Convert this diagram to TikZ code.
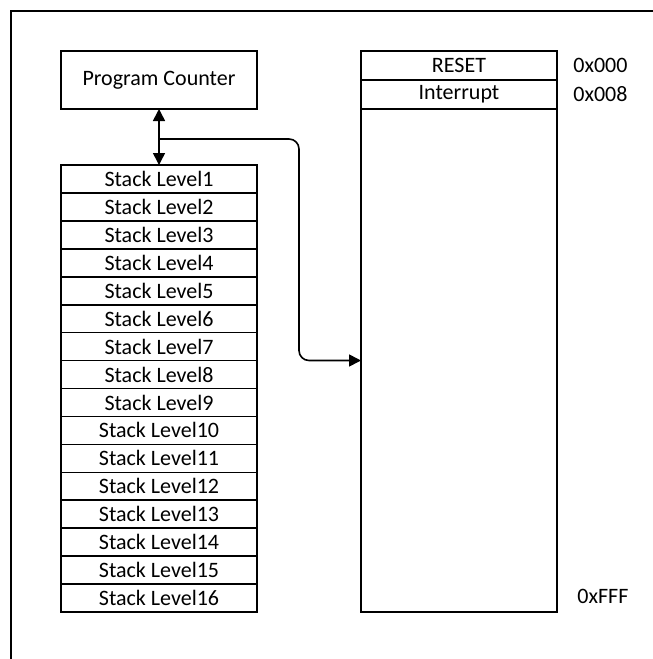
\documentclass[tikz,border=0pt]{standalone}
\usepackage{fontspec}
\setmainfont{Carlito}
\usepackage{tikz}
\usetikzlibrary {arrows.meta,
                 calc,
                 positioning}
\tikzset{
        base/.style={draw, line width=0.8pt, inner sep=0pt, outer sep=0pt,
                     minimum width=98pt},
        cell/.style={base, minimum height=13.97pt},
        pcbox/.style={base, minimum height=29pt},
        memrow/.style={base, minimum height=14.5pt},
        addr/.style={inner sep=0pt, anchor=west},
        myarrow/.style={-{Triangle[length=6pt, width=6pt]}, line width=0.8pt},
 }

\begin{document}
\begin{tikzpicture}[font=\fontsize{11}{13}\selectfont]
    \useasboundingbox (0,0) rectangle (326.5pt,-329.5pt);
    \draw[line width=0.8pt] (5.5pt,-5.5pt) rectangle (340pt,-340pt);

    \node[pcbox] (pc) at (79.5pt,-40pt) {Program Counter};

    \node[cell, below=28pt of pc] (s1) {Stack Level1};
    \node[cell, below=0pt of s1] (s2) {Stack Level2};
    \node[cell, below=0pt of s2] (s3) {Stack Level3};
    \node[cell, below=0pt of s3] (s4) {Stack Level4};
    \node[cell, below=0pt of s4] (s5) {Stack Level5};
    \node[cell, below=0pt of s5] (s6) {Stack Level6};
    \node[cell, below=0pt of s6] (s7) {Stack Level7};
    \node[cell, below=0pt of s7] (s8) {Stack Level8};
    \node[cell, below=0pt of s8] (s9) {Stack Level9};
    \node[cell, below=0pt of s9] (s10) {Stack Level10};
    \node[cell, below=0pt of s10] (s11) {Stack Level11};
    \node[cell, below=0pt of s11] (s12) {Stack Level12};
    \node[cell, below=0pt of s12] (s13) {Stack Level13};
    \node[cell, below=0pt of s13] (s14) {Stack Level14};
    \node[cell, below=0pt of s14] (s15) {Stack Level15};
    \node[cell, below=0pt of s15] (s16) {Stack Level16};

    \node[memrow, right=52pt of pc.north east, anchor=north west] (reset) {RESET};
    \node[memrow, below=0pt of reset] (intr) {Interrupt};
    \node[base, below=0pt of intr, minimum height=251.5pt] (mem) {};

    \node[addr, right=8pt of reset] (a000) {0x000};
    \node[addr, right=8pt of intr] (a008) {0x008};
    \node[addr, above right=4pt and 10pt of mem.south east, anchor=south west] (afff) {0xFFF};

    \coordinate (br) at ($(pc.south)+(0,-15pt)$);

    \draw[myarrow, {Triangle[length=6pt, width=6pt]}-{Triangle[length=6pt, width=6pt]}] (pc.south) -- (s1.north);
    \draw[myarrow, rounded corners=5pt] (br) -- ++(70pt,0) |- (mem.west);
\end{tikzpicture}
\end{document}
